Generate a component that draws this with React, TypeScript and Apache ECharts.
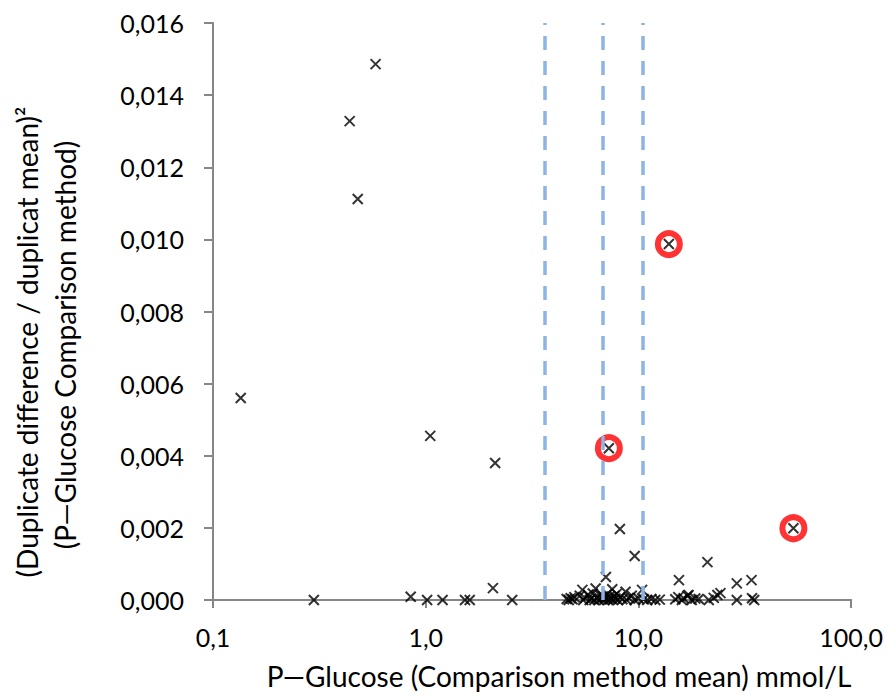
import React, { useEffect, useRef } from "react";
import * as echarts from "echarts";

// Scatter points [x (mmol/L), y]
const pointsIsolated: number[][] = [
  [0.135, 0.0056], [0.298, 0.0], [0.439, 0.01328], [0.479, 0.01112], [0.581, 0.01486],
  [0.85, 0.00009], [1.015, 0.0], [1.05, 0.00455], [1.2, 0.0], [1.53, 0.0], [1.61, 0.0],
  [2.07, 0.00033], [2.12, 0.0038], [2.55, 0.0],
  [7.26, 0.00421], [13.9, 0.00987], [53.5, 0.00199],
  [8.18, 0.00197], [9.6, 0.00122], [21.1, 0.00105], [15.5, 0.00055], [29.0, 0.00046],
  [34.0, 0.00055], [7.03, 0.00064],
];
const pointsClusterMid: number[][] = [
  [4.6, 0.00003], [4.7, 0.0], [4.8, 0.00005], [4.9, 0.00002], [5.0, 0.00008], [5.3, 0.00012],
  [5.45, 0.00028], [5.5, 0.0], [5.6, 0.00006], [5.8, 0.00015], [5.9, 0.0], [6.0, 0.00004],
  [6.1, 0.00018], [6.2, 0.0], [6.29, 0.00032], [6.4, 0.00007], [6.5, 0.0], [6.6, 0.00013],
  [6.7, 0.00002], [6.8, 0.0001], [6.9, 0.0], [7.0, 0.00005], [7.1, 0.00016], [7.2, 0.0],
  [7.3, 0.00009], [7.4, 0.00003], [7.53, 0.0003], [7.6, 0.0], [7.7, 0.00011], [7.8, 0.00004],
  [7.9, 0.00017], [8.0, 0.0], [8.2, 0.00008], [8.4, 0.00002], [8.7, 0.00023], [8.8, 0.0],
  [9.0, 0.00006], [9.3, 0.00012], [9.6, 0.0], [10.0, 0.00004], [10.4, 0.00028], [10.6, 0.00002],
  [11.0, 0.0], [11.5, 0.00003], [12.0, 0.0], [12.6, 0.00001],
];
const pointsClusterRight: number[][] = [
  [14.9, 0.00002], [15.4, 0.00008], [16.0, 0.0], [16.3, 0.00005], [17.0, 0.00012], [17.2, 0.00014],
  [17.8, 0.0], [18.5, 0.00004], [19.2, 0.00003], [21.4, 0.0], [22.6, 0.00006], [23.5, 0.00014],
  [24.3, 0.00019], [29.0, 0.0], [34.2, 0.00005], [35.0, 0.0],
];
const circledPoints: number[][] = [[7.26, 0.00421], [13.9, 0.00987], [53.5, 0.00199]];
const limitLines: number[] = [3.63, 6.8, 10.45];

const xTitle = "P\u2014Glucose (Comparison method mean) mmol/L";
const yTitle1 = "(Duplicate difference / duplicat mean)\u00B2";
const yTitle2 = "(P\u2014Glucose Comparison method)";

const FONT = "Lato";

export default function App() {
  const ref = useRef<HTMLDivElement>(null);
  useEffect(() => {
    if (!ref.current) return;
    const chart = echarts.init(ref.current, undefined, { renderer: "svg" });
    const crossSymbol = "path://M0,0L10,10M10,0L0,10";
    const allPoints = [...pointsIsolated, ...pointsClusterMid, ...pointsClusterRight];
    const titleStyle = (text: string) => ({
      text,
      font: `28px ${FONT}`,
      fill: "#000",
      textAlign: "center",
      textVerticalAlign: "middle",
      align: "center",
      verticalAlign: "middle",
    });
    chart.setOption({
      animation: false,
      backgroundColor: "#ffffff",
      grid: { left: 213, right: 33, top: 23, bottom: 95 },
      xAxis: {
        type: "log",
        logBase: 10,
        min: 0.1,
        max: 100,
        axisLine: { show: true, lineStyle: { color: "#868686", width: 2 } },
        axisTick: { show: true, inside: false, length: 8, lineStyle: { color: "#868686", width: 2 } },
        minorTick: { show: false },
        splitLine: { show: false },
        axisLabel: {
          margin: 24,
          color: "#000",
          fontFamily: FONT,
          fontSize: 25,
          formatter: (v: number) => v.toFixed(1).replace(".", ","),
        },
      },
      yAxis: {
        type: "value",
        min: 0,
        max: 0.016,
        interval: 0.002,
        axisLine: { show: true, lineStyle: { color: "#868686", width: 2 } },
        axisTick: { show: true, inside: false, length: 9, lineStyle: { color: "#868686", width: 2 } },
        splitLine: { show: false },
        axisLabel: {
          margin: 29,
          color: "#000",
          fontFamily: FONT,
          fontSize: 25,
          formatter: (v: number) => v.toFixed(3).replace(".", ","),
        },
      },
      series: [
        {
          type: "scatter",
          data: allPoints,
          symbol: crossSymbol,
          symbolSize: 10,
          itemStyle: { color: "#000", borderColor: "#000", borderWidth: 2 },
          markLine: {
            silent: true,
            symbol: "none",
            label: { show: false },
            lineStyle: { type: [14, 11], color: "#8db4e2", width: 3.5 },
            data: limitLines.map((v) => ({ xAxis: v })),
          },
          z: 3,
        },
        {
          type: "scatter",
          data: circledPoints,
          symbol: "circle",
          symbolSize: 22,
          itemStyle: { color: "rgba(0,0,0,0)", borderColor: "#ff0000", borderWidth: 6 },
          z: 2,
        },
      ],
      graphic: [
        { type: "text", x: 559, y: 676, style: titleStyle(xTitle) },
        { type: "text", x: 27, y: 342, rotation: Math.PI / 2, style: titleStyle(yTitle1) },
        { type: "text", x: 65, y: 345, rotation: Math.PI / 2, style: titleStyle(yTitle2) },
      ],
    });
    return () => chart.dispose();
  }, []);
  return (
    <div
      ref={ref}
      style={{ position: "fixed", left: 0, top: 0, width: 886, height: 695 }}
    />
  );
}
